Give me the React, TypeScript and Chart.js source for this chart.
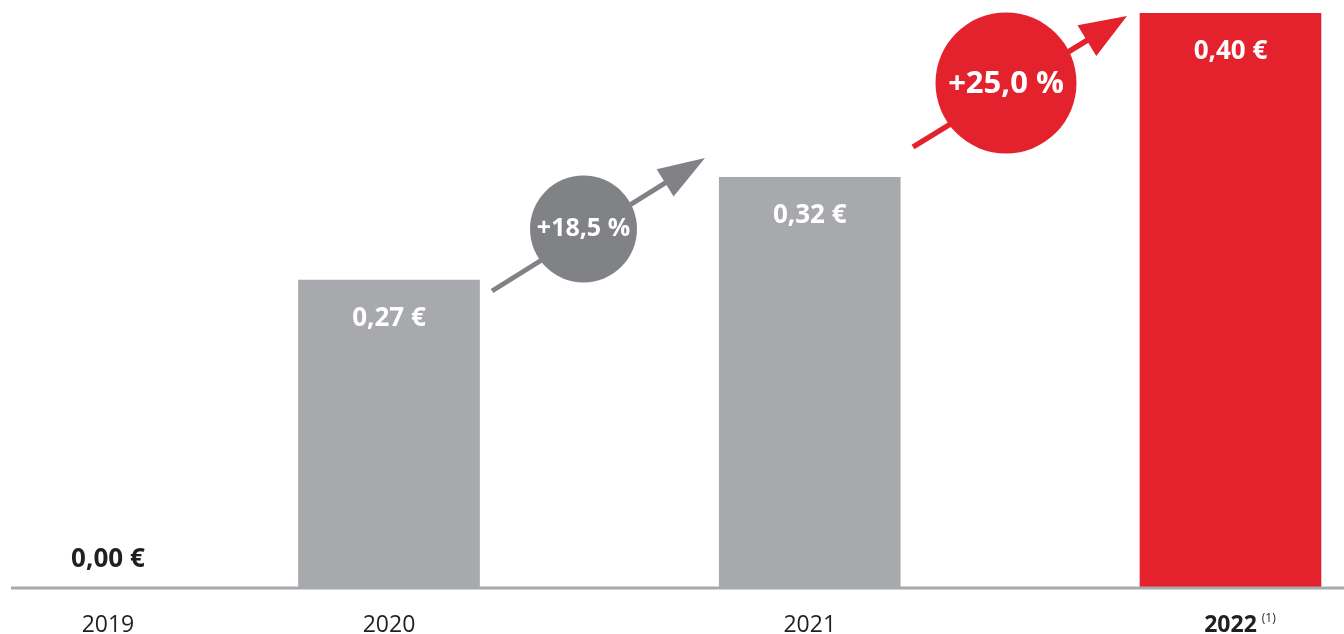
import React, { useEffect, useRef } from "react";
import { Chart, registerables } from "chart.js";

Chart.register(...registerables);

// ---- data ----
const categories = ["2019", "2020", "2021", "2022"];
const dividends = [0.0, 0.27, 0.32, 0.4];
const valueLabels = ["0,00 €", "0,27 €", "0,32 €", "0,40 €"];
const footnotes = ["", "", "", "(1)"];
const highlighted = [false, false, false, true];
const growthLabels = ["+18,5 %", "+25,0 %"];

// ---- layout (not data) ----
const categorySlots = [0.332, 1, 2, 3];

const GRAY = "#a7a9ac";
const DARK_GRAY = "#808285";
const RED = "#e4222e";
const INK = "#231f20";
const FONT = '"Open Sans", "Noto Sans", sans-serif';

type Growth = {
  label: string;
  color: string;
  start: [number, number];
  tip: [number, number];
  headLen: number;
  headHalf: number;
  shaft: number;
  cx: number;
  cy: number;
  r: number;
  fontSize: number;
  textDy: number;
};

const growthMarks: Growth[] = [
  {
    label: growthLabels[0],
    color: DARK_GRAY,
    start: [492, 291],
    tip: [705, 158],
    headLen: 47,
    headHalf: 16,
    shaft: 5,
    cx: 583.5,
    cy: 229,
    r: 53.5,
    fontSize: 25,
    textDy: 7,
  },
  {
    label: growthLabels[1],
    color: RED,
    start: [913, 147],
    tip: [1127, 16],
    headLen: 47,
    headHalf: 18,
    shaft: 5.5,
    cx: 1006,
    cy: 83,
    r: 70.5,
    fontSize: 31,
    textDy: 10,
  },
];

function drawGrowth(ctx: CanvasRenderingContext2D, g: Growth) {
  const [x0, y0] = g.start;
  const [x1, y1] = g.tip;
  const dx = x1 - x0;
  const dy = y1 - y0;
  const len = Math.hypot(dx, dy);
  const ux = dx / len;
  const uy = dy / len;
  const px = -uy;
  const py = ux;
  const bx = x1 - ux * g.headLen;
  const by = y1 - uy * g.headLen;
  ctx.save();
  ctx.strokeStyle = g.color;
  ctx.fillStyle = g.color;
  ctx.lineWidth = g.shaft;
  ctx.lineCap = "butt";
  ctx.beginPath();
  ctx.moveTo(x0, y0);
  ctx.lineTo(bx + ux * 4, by + uy * 4);
  ctx.stroke();
  ctx.beginPath();
  ctx.moveTo(x1, y1);
  ctx.lineTo(bx + px * g.headHalf, by + py * g.headHalf);
  ctx.lineTo(bx - px * g.headHalf, by - py * g.headHalf);
  ctx.closePath();
  ctx.fill();
  ctx.beginPath();
  ctx.arc(g.cx, g.cy, g.r, 0, Math.PI * 2);
  ctx.fill();
  ctx.fillStyle = "#ffffff";
  ctx.font = `bold ${g.fontSize}px ${FONT}`;
  ctx.textAlign = "center";
  ctx.textBaseline = "alphabetic";
  ctx.fillText(g.label, g.cx, g.cy + g.textDy);
  ctx.restore();
}

const overlayPlugin = {
  id: "overlay",
  afterDatasetsDraw(chart: any) {
    const ctx: CanvasRenderingContext2D = chart.ctx;
    const { left, right, bottom } = chart.chartArea;
    const meta = chart.getDatasetMeta(0);
    ctx.save();
    // baseline
    ctx.strokeStyle = GRAY;
    ctx.lineWidth = 3;
    ctx.beginPath();
    ctx.moveTo(left, bottom);
    ctx.lineTo(right, bottom);
    ctx.stroke();

    meta.data.forEach((bar: any, i: number) => {
      const x = bar.x;
      ctx.textAlign = "center";
      ctx.textBaseline = "alphabetic";
      ctx.font = `bold 26px ${FONT}`;
      if (dividends[i] > 0 && bar.y < bottom) {
        ctx.fillStyle = "#ffffff";
        ctx.fillText(valueLabels[i], x, bar.y + 46);
      } else {
        ctx.fillStyle = INK;
        ctx.fillText(valueLabels[i], x, bottom - 21);
      }
      // category labels
      ctx.fillStyle = INK;
      ctx.font = `${highlighted[i] ? "bold " : ""}23px ${FONT}`;
      ctx.fillText(categories[i], x, 632);
      if (footnotes[i]) {
        const w = ctx.measureText(categories[i]).width;
        ctx.font = `12px ${FONT}`;
        ctx.textAlign = "left";
        ctx.fillText(footnotes[i], x + w / 2 + 5, 622);
      }
    });
    ctx.restore();

    growthMarks.forEach((g) => drawGrowth(ctx, g));
  },
};

export default function App() {
  const canvasRef = useRef<HTMLCanvasElement | null>(null);

  useEffect(() => {
    document.body.style.margin = "0";
    const canvas = canvasRef.current;
    if (!canvas) return;
    const chart = new Chart(canvas, {
      type: "bar",
      data: {
        datasets: [
          {
            label: "Dividende",
            data: categories.map((c, i) => ({ x: categorySlots[i], y: dividends[i] })),
            backgroundColor: highlighted.map((h) => (h ? RED : GRAY)),
            borderWidth: 0,
            barThickness: 181,
          },
        ],
      },
      options: {
        animation: false,
        responsive: true,
        maintainAspectRatio: false,
        layout: { padding: { left: 11, right: 0, top: 13, bottom: 46 } },
        scales: {
          x: {
            type: "linear",
            display: false,
            offset: false,
            grid: { offset: false },
            min: 0.1016,
            max: 3.2698,
          },
          y: { display: false, min: 0.12, max: 0.4 },
        },
        plugins: {
          legend: { display: false },
          tooltip: { enabled: false },
        },
      },
      plugins: [overlayPlugin],
    });
    return () => chart.destroy();
  }, []);

  return (
    <div style={{ position: "absolute", left: 0, top: 0, width: 1344, height: 634 }}>
      <canvas ref={canvasRef} />
    </div>
  );
}
